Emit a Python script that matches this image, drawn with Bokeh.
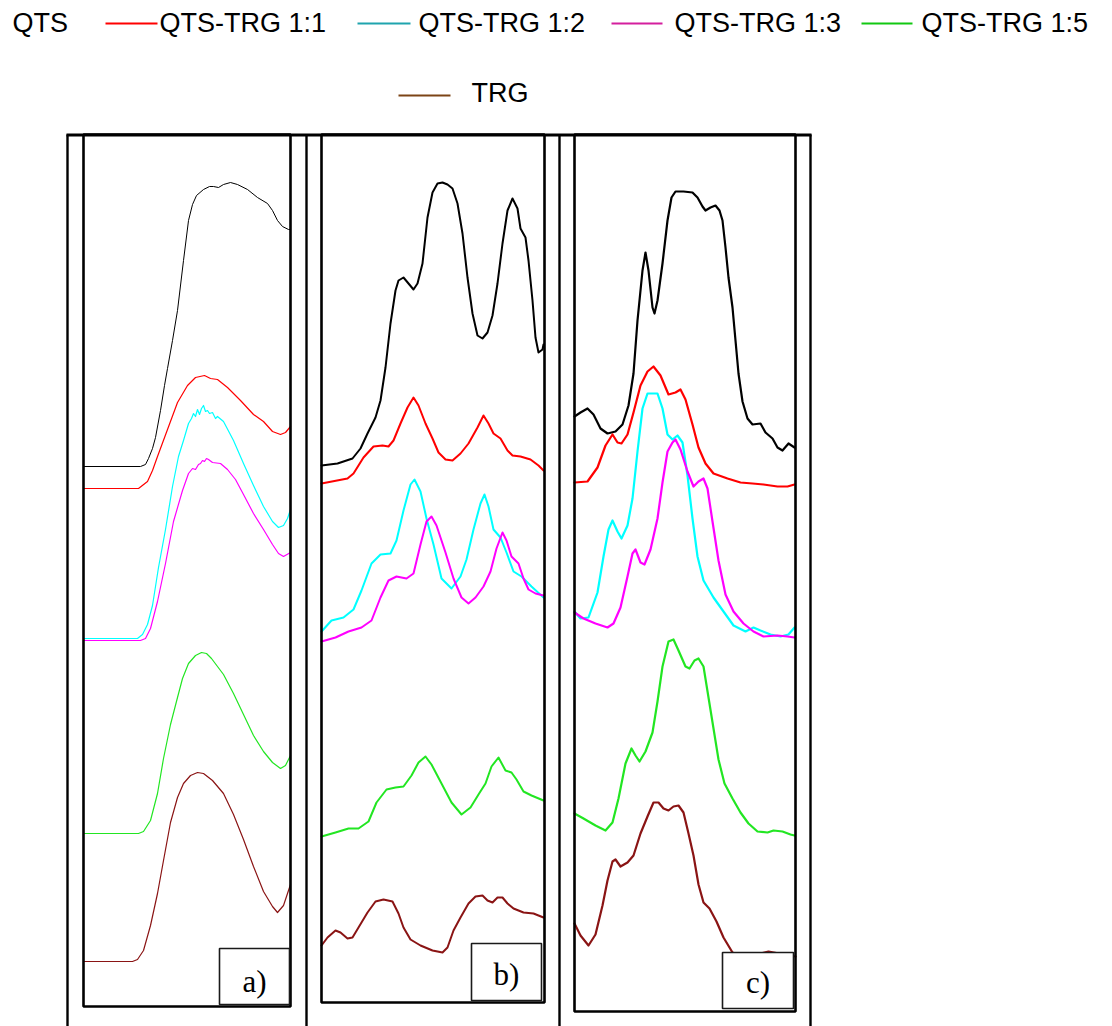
from bokeh.plotting import figure
from bokeh.models import Range1d
from bokeh.embed import file_html
from bokeh.resources import INLINE
from bokeh.core.properties import value

# Stacked emission spectra: x = channel offset from the start of each panel,
# y = intensity (a.u.) including the vertical stacking offset of each trace.

# ---------------- panel a ----------------
a_qts_x = [0, 57, 62, 65, 69, 72, 77, 81, 84, 89, 94, 100, 105, 109, 113, 120, 126, 130, 135, 140, 147, 154, 164, 174, 184, 189, 194, 199, 205, 207]
a_qts_y = [544, 544, 546, 552, 562, 573, 600, 625, 642, 670, 700, 750, 790, 806, 815, 821, 824, 824, 823, 826, 828, 826, 821, 813, 807, 800, 790, 784, 781, 781]
a_11_x = [0, 55, 64, 69, 74, 84, 94, 104, 112, 121, 127, 134, 144, 157, 170, 180, 189, 197, 202, 207]
a_11_y = [522, 522, 529, 540, 554, 581, 608, 625, 633, 635, 632, 631, 623, 610, 596, 589, 579, 576, 578, 584]
a_12_x = [0, 54, 59, 64, 69, 75, 82, 89, 95, 100, 105, 108, 110, 112, 114, 116, 118, 120, 122, 124, 126, 129, 132, 134, 140, 150, 160, 170, 180, 189, 195, 200, 204, 207]
a_12_y = [372, 372, 376, 386, 405, 443, 481, 524, 554, 570, 587, 592, 597, 594, 601, 596, 602, 605, 599, 600, 597, 598, 592, 594, 589, 570, 547, 525, 504, 489, 483, 485, 492, 501]
a_13_x = [0, 57, 62, 67, 74, 82, 90, 99, 105, 109, 112, 115, 117, 119, 121, 123, 125, 129, 137, 144, 152, 160, 170, 180, 189, 195, 200, 207]
a_13_y = [370, 370, 372, 382, 409, 447, 489, 520, 537, 542, 541, 546, 547, 550, 549, 552, 551, 548, 547, 541, 531, 516, 497, 481, 466, 457, 454, 458]
a_15_x = [0, 55, 60, 67, 74, 80, 87, 94, 99, 105, 112, 118, 123, 128, 134, 140, 150, 160, 170, 180, 189, 197, 202, 207]
a_15_y = [177, 177, 179, 190, 217, 252, 286, 313, 332, 347, 355, 358, 357, 352, 344, 336, 317, 296, 275, 259, 248, 242, 245, 255]
a_trg_x = [0, 49, 54, 60, 67, 74, 80, 87, 94, 100, 107, 114, 120, 129, 140, 150, 160, 170, 180, 189, 194, 200, 207]
a_trg_y = [49, 49, 51, 60, 85, 117, 150, 188, 213, 227, 235, 238, 237, 230, 217, 196, 171, 144, 119, 104, 98, 105, 126]

# ---------------- panel b ----------------
b_qts_x = [0, 16, 31, 39, 46, 54, 59, 64, 69, 74, 77, 82, 87, 92, 96, 101, 106, 111, 116, 121, 126, 131, 136, 141, 146, 151, 156, 161, 166, 171, 176, 181, 186, 191, 196, 199, 204, 207, 211, 214, 217, 221, 222]
b_qts_y = [545, 547, 552, 562, 577, 593, 610, 643, 687, 720, 730, 733, 727, 721, 727, 747, 793, 818, 827, 828, 826, 822, 807, 777, 733, 697, 675, 672, 678, 695, 727, 767, 800, 812, 802, 782, 773, 750, 710, 673, 658, 661, 666]
b_11_x = [0, 26, 32, 42, 52, 61, 67, 72, 79, 86, 92, 97, 104, 111, 117, 124, 131, 139, 147, 156, 162, 167, 172, 179, 186, 191, 199, 209, 217, 222]
b_11_y = [527, 532, 537, 553, 564, 565, 564, 570, 587, 603, 613, 605, 587, 572, 558, 551, 550, 557, 567, 583, 595, 587, 577, 572, 560, 555, 554, 551, 545, 540]
b_12_x = [0, 10, 22, 32, 40, 50, 59, 69, 75, 82, 89, 93, 99, 105, 112, 120, 130, 139, 145, 152, 159, 163, 167, 172, 179, 185, 192, 200, 210, 222]
b_12_y = [379, 390, 393, 401, 420, 447, 456, 457, 470, 500, 526, 531, 519, 492, 466, 432, 422, 434, 451, 481, 507, 516, 504, 481, 473, 458, 439, 434, 424, 413]
b_13_x = [0, 14, 27, 40, 50, 59, 67, 75, 85, 92, 99, 105, 110, 115, 124, 132, 140, 147, 154, 162, 169, 175, 181, 185, 190, 197, 202, 207, 214, 222]
b_13_y = [369, 373, 379, 383, 390, 413, 430, 434, 432, 437, 466, 489, 494, 485, 458, 432, 413, 407, 413, 424, 439, 462, 478, 470, 454, 447, 432, 421, 417, 415]
b_15_x = [0, 14, 27, 37, 47, 55, 65, 74, 82, 90, 97, 104, 110, 120, 130, 140, 149, 157, 164, 170, 177, 184, 190, 195, 202, 210, 222]
b_15_y = [174, 178, 182, 182, 189, 208, 221, 223, 224, 235, 248, 254, 246, 227, 208, 196, 203, 216, 227, 244, 253, 240, 238, 231, 219, 215, 210]
b_trg_x = [0, 6, 14, 19, 26, 31, 37, 46, 54, 62, 71, 77, 82, 89, 99, 111, 121, 126, 132, 139, 147, 154, 161, 166, 171, 176, 181, 186, 192, 202, 212, 217, 222]
b_trg_y = [65, 73, 80, 78, 72, 73, 83, 98, 109, 111, 109, 97, 83, 71, 65, 60, 58, 63, 80, 93, 107, 114, 115, 110, 108, 113, 113, 107, 102, 98, 97, 95, 93]

# ---------------- panel c ----------------
c_qts_x = [0, 6, 13, 19, 26, 33, 41, 48, 54, 59, 63, 68, 71, 74, 78, 80, 83, 88, 93, 97, 101, 109, 118, 123, 128, 131, 136, 141, 145, 148, 151, 154, 158, 161, 164, 168, 173, 178, 186, 191, 198, 203, 208, 214, 220]
c_qts_y = [594, 598, 602, 596, 582, 577, 579, 586, 605, 637, 690, 740, 758, 740, 703, 697, 710, 747, 790, 813, 819, 819, 818, 813, 804, 800, 803, 805, 800, 790, 763, 733, 703, 670, 637, 609, 592, 586, 587, 578, 572, 563, 560, 567, 563]
c_11_x = [0, 13, 23, 31, 38, 43, 47, 53, 59, 66, 73, 79, 86, 94, 101, 106, 111, 118, 124, 131, 139, 153, 166, 178, 189, 203, 213, 220]
c_11_y = [528, 529, 543, 565, 576, 568, 567, 576, 598, 625, 639, 644, 635, 616, 618, 621, 611, 586, 563, 547, 537, 532, 528, 527, 526, 524, 524, 526]
c_12_x = [0, 6, 14, 23, 29, 34, 38, 43, 47, 53, 58, 63, 68, 73, 83, 88, 93, 98, 103, 108, 113, 118, 123, 129, 139, 149, 159, 171, 179, 186, 196, 206, 214, 220]
c_12_y = [399, 392, 393, 418, 454, 481, 490, 479, 472, 485, 512, 559, 602, 617, 617, 602, 576, 571, 575, 568, 535, 492, 454, 430, 413, 399, 385, 379, 383, 380, 376, 374, 376, 383]
c_13_x = [0, 9, 21, 33, 39, 46, 53, 58, 61, 66, 70, 76, 83, 88, 93, 98, 101, 106, 113, 119, 124, 129, 133, 138, 144, 151, 159, 169, 179, 189, 203, 213, 220]
c_13_y = [398, 392, 387, 383, 387, 403, 434, 457, 461, 448, 446, 461, 492, 528, 559, 568, 571, 561, 539, 524, 529, 532, 522, 489, 450, 416, 399, 387, 379, 374, 375, 374, 373]
c_15_x = [0, 9, 21, 31, 38, 44, 51, 57, 61, 65, 71, 78, 83, 88, 94, 99, 104, 111, 115, 120, 124, 129, 134, 139, 144, 150, 158, 166, 174, 183, 193, 199, 208, 216, 220]
c_15_y = [197, 192, 185, 180, 188, 212, 247, 262, 255, 249, 259, 278, 309, 344, 369, 371, 360, 344, 342, 350, 352, 344, 313, 282, 251, 227, 212, 198, 187, 179, 178, 180, 179, 176, 175]
c_trg_x = [0, 6, 14, 21, 28, 33, 38, 41, 46, 53, 59, 66, 73, 79, 84, 89, 94, 99, 104, 109, 114, 119, 124, 129, 135, 142, 149, 158, 171, 194, 221]
c_trg_y = [87, 75, 65, 76, 105, 130, 149, 151, 144, 148, 155, 177, 194, 208, 208, 202, 200, 204, 205, 198, 177, 155, 126, 108, 102, 89, 73, 58, 53, 59, 54]

# series names and colours
series_labels = ["QTS", "QTS-TRG 1:1", "QTS-TRG 1:2", "QTS-TRG 1:3", "QTS-TRG 1:5", "TRG"]
curve_colors = ["#000000", "#ff0000", "#00ffff", "#ff00ff", "#22e622", "#8a1414"]
legend_colors = [None, "#ff0000", "#1fa4ae", "#d41f9e", "#12c812", "#7c4416"]
panel_tags = ["a)", "b)", "c)"]

W, H = 1112, 1026

p = figure(width=W, height=H, x_range=Range1d(0, W), y_range=Range1d(H, 0),
           x_axis_type=None, y_axis_type=None, output_backend="svg",
           toolbar_location=None, min_border=0, outline_line_color=None,
           background_fill_color="white", border_fill_color="white")
p.grid.visible = False

# intensity scale shared by the three panels
p.extra_y_ranges = {"inten": Range1d(-16, 1010)}

panels = [
    dict(key="a", left=83, right=290, top=134, bottom=1006, lw=1.2,
         box=(219, 948, 289, 1004), tag_y=981,
         data=[(a_qts_x, a_qts_y), (a_11_x, a_11_y), (a_12_x, a_12_y),
               (a_13_x, a_13_y), (a_15_x, a_15_y), (a_trg_x, a_trg_y)]),
    dict(key="b", left=321, right=544, top=134, bottom=1002, lw=2.0,
         box=(471, 943, 541, 1000), tag_y=974,
         data=[(b_qts_x, b_qts_y), (b_11_x, b_11_y), (b_12_x, b_12_y),
               (b_13_x, b_13_y), (b_15_x, b_15_y), (b_trg_x, b_trg_y)]),
    dict(key="c", left=574, right=795, top=134, bottom=1011, lw=2.2,
         box=(722, 952, 793, 1008), tag_y=982,
         data=[(c_qts_x, c_qts_y), (c_11_x, c_11_y), (c_12_x, c_12_y),
               (c_13_x, c_13_y), (c_15_x, c_15_y), (c_trg_x, c_trg_y)]),
]

for pan in panels:
    p.extra_x_ranges[pan["key"]] = Range1d(-pan["left"], W - pan["left"])
    for (xs, ys), col in zip(pan["data"], curve_colors):
        lw = pan["lw"]
        if pan["key"] == "a" and col == "#000000":
            lw = 1.0
        p.line(xs, ys, x_range_name=pan["key"], y_range_name="inten",
               line_color=col, line_width=lw, line_join="round", line_cap="round")

# outer frame: top rule and the separators between panels
p.segment(x0=66, y0=134.5, x1=811, y1=134.5, line_color="black", line_width=3)
p.segment(x0=[67, 306, 559, 810], y0=134, x1=[67, 306, 559, 810], y1=H,
          line_color="black", line_width=2.4)

# inner plot boxes
p.quad(left=[q["left"] for q in panels], right=[q["right"] for q in panels],
       top=[q["top"] for q in panels], bottom=[q["bottom"] for q in panels],
       fill_color=None, line_color="black", line_width=2.6)

# panel tags
p.quad(left=[q["box"][0] for q in panels], right=[q["box"][2] for q in panels],
       top=[q["box"][1] for q in panels], bottom=[q["box"][3] for q in panels],
       fill_color="white", line_color="#1a1a1a", line_width=1.6)
p.text(x=[(q["box"][0] + q["box"][2]) / 2 for q in panels],
       y=[q["tag_y"] for q in panels], text=panel_tags,
       text_font=value("Liberation Serif"), text_font_size="31px",
       text_align="center", text_baseline="middle", text_color="black")

# legend (two rows)
leg_font = value("Liberation Sans")
leg_size = "27px"
sw_x0 = [None, 105, 357, 611, 861, 398]
sw_x1 = [None, 157, 410, 662, 912, 450]
sw_y = [None, 23, 23, 23, 23, 95]
lab_x = [12, 159, 418, 674, 921, 471]
lab_y = [22, 22, 22, 22, 22, 92]
for i, lab in enumerate(series_labels):
    if legend_colors[i] is not None:
        p.segment(x0=sw_x0[i], y0=sw_y[i], x1=sw_x1[i], y1=sw_y[i],
                  line_color=legend_colors[i], line_width=2)
    p.text(x=[lab_x[i]], y=[lab_y[i]], text=[lab], text_font=leg_font,
           text_font_size=leg_size, text_align="left",
           text_baseline="middle", text_color="black")

open("out.html", "w").write(file_html(p, INLINE))
